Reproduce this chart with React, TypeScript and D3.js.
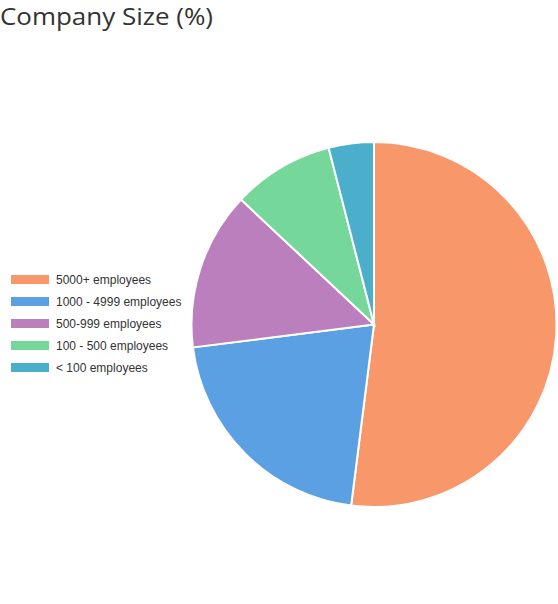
import { useMemo } from 'react';
import * as d3 from 'd3';

const categories = ['5000+ employees', '1000 - 4999 employees', '500-999 employees', '100 - 500 employees', '< 100 employees'];
const shares = [52, 21, 14, 9, 4];
const colors = ['#f7976a', '#5aa0e3', '#bb7fbd', '#75d799', '#4bafcb'];

const W = 558;
const H = 604;

const App = () => {
  const arcs = useMemo(() => {
    const pie = d3.pie<number>().sort(null).value((d) => d);
    return pie(shares);
  }, []);

  const arcGen = d3.arc<d3.PieArcDatum<number>>().innerRadius(0).outerRadius(182.5);

  return (
    <svg width={W} height={H} style={{ position: 'absolute', left: 0, top: 0 }}>
      <text x={0} y={25} fontFamily="'Open Sans', sans-serif" fontSize={24} fill="#333" textLength={213} lengthAdjust="spacingAndGlyphs">
        Company Size (%)
      </text>

      <g transform="translate(374,324.5)">
        {arcs.map((a, i) => (
          <path key={i} d={arcGen(a) || ''} fill={colors[i]} stroke="#fff" strokeWidth={2} />
        ))}
      </g>

      {/* legend */}
      <g transform="translate(11,275)">
        {categories.map((c, i) => (
          <g key={c} transform={`translate(0,${i * 22})`}>
            <rect width={38} height={9} fill={colors[i]} />
            <text x={45} y={8.5} fontFamily="'Liberation Sans', Arial, sans-serif" fontSize={12} fill="#333">
              {c}
            </text>
          </g>
        ))}
      </g>
    </svg>
  );
};

export default App;
